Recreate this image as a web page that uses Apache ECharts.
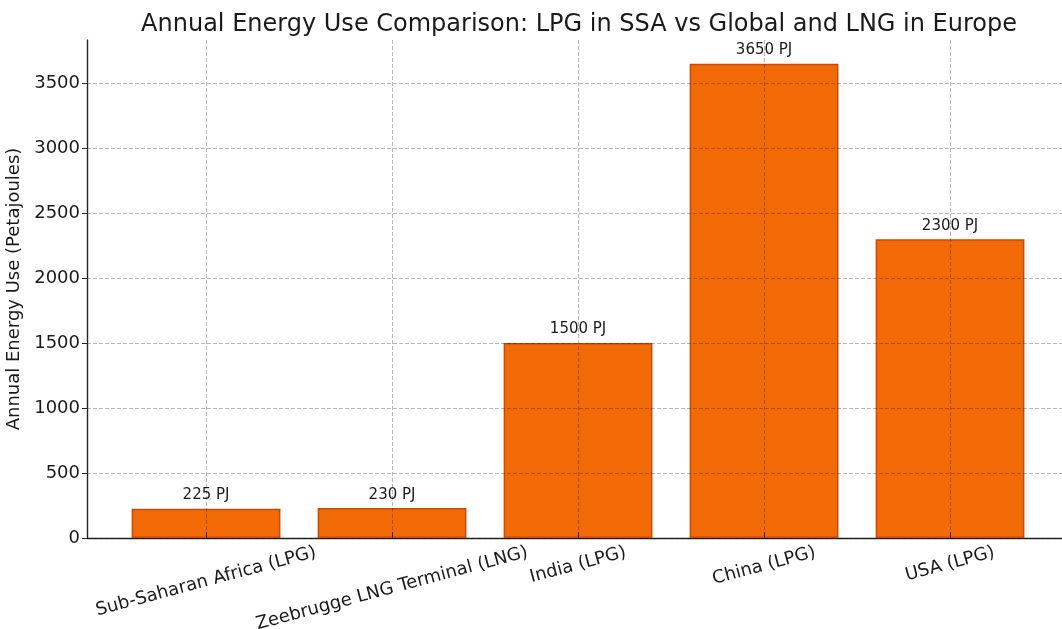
<!DOCTYPE html>
<html>
<head>
<meta charset="utf-8">
<style>
  html, body { margin: 0; padding: 0; background: #ffffff; }
  #chart { width: 1062px; height: 629px; }
</style>
<script src="https://cdn.jsdelivr.net/npm/echarts@6/dist/echarts.min.js"></script>
</head>
<body>
<div id="chart"></div>
<script>
// Chart data
const categories = [
  'Sub-Saharan Africa (LPG)',
  'Zeebrugge LNG Terminal (LNG)',
  'India (LPG)',
  'China (LPG)',
  'USA (LPG)'
];
const energyPJ = [225, 230, 1500, 3650, 2300];
const titleText = 'Annual Energy Use Comparison: LPG in SSA vs Global and LNG in Europe';
const yAxisTitle = 'Annual Energy Use (Petajoules)';
const unitSuffix = ' PJ';

// Plot geometry (pixels)
const plotLeft = 87, plotTop = 40, plotBottom = 538;
const xMin = -0.64, xMax = categories.length - 1 + 0.64;
const unitPx = 186;                       // one category step
const plotWidth = (xMax - xMin) * unitPx;
const yMax = Math.max(...energyPJ) * 1.05;

const font = 'DejaVu Sans';
const gridLine = { type: [4, 2], color: 'rgba(0,0,0,0.28)', width: 1 };

// Rotated category labels: every rotated box hangs from the same top line
// and stays centred on its tick. Each label gets its own line height and a
// trailing spacer so the text centre lands where it should.
const rot = 15 * Math.PI / 180;
const labelFont = 18;
const labelMargin = 4;
const boxTop = plotBottom + 4;
const glyphH = 21;
const measureCtx = document.createElement('canvas').getContext('2d');
measureCtx.font = labelFont + 'px "' + font + '"';
const labelRich = {};
categories.forEach((c, i) => {
  const L = measureCtx.measureText(c).width;
  const centreY = boxTop + (L * Math.sin(rot) + glyphH * Math.cos(rot)) / 2;
  const lh = (centreY - (plotBottom + labelMargin)) / 0.5175;
  labelRich['t' + i] = { fontFamily: font, fontSize: labelFont, color: '#1a1a1a', lineHeight: lh };
  labelRich['s' + i] = { fontFamily: font, fontSize: labelFont, width: Math.tan(rot) * lh, lineHeight: lh };
});

const chart = echarts.init(document.getElementById('chart'), null, { renderer: 'canvas' });
chart.setOption({
  backgroundColor: '#ffffff',
  animation: false,
  textStyle: { fontFamily: font },
  title: {
    text: titleText,
    left: plotLeft + plotWidth / 2 - 4,
    textAlign: 'center',
    top: 8,
    textStyle: { fontFamily: font, fontSize: 24, fontWeight: 'normal', color: '#1a1a1a' }
  },
  grid: [
    { left: plotLeft, top: plotTop, width: plotWidth, height: plotBottom - plotTop,
      containLabel: false, outerBoundsMode: 'none' },
    { left: plotLeft + (0 - xMin) * unitPx, top: plotTop,
      width: (categories.length - 1) * unitPx, height: plotBottom - plotTop,
      containLabel: false, outerBoundsMode: 'none' }
  ],
  xAxis: [
    {
      type: 'value', gridIndex: 0, min: xMin, max: xMax,
      axisLine: { show: true, onZero: false, lineStyle: { color: '#262626', width: 1.4 } },
      axisTick: { show: false }, axisLabel: { show: false }, splitLine: { show: false }
    },
    {
      type: 'category', gridIndex: 1, data: categories, boundaryGap: false, z: 5,
      axisLine: { show: false, onZero: false },
      axisTick: { show: true, inside: true, length: 6, lineStyle: { color: '#262626', width: 1 } },
      axisLabel: {
        rotate: 15, align: 'center', verticalAlign: 'top', margin: labelMargin,
        fontFamily: font, fontSize: labelFont, color: '#1a1a1a', interval: 0,
        hideOverlap: false,
        formatter: (value, index) => '{t' + index + '|' + value + '}{s' + index + '| }',
        rich: labelRich
      },
      splitLine: { show: true, lineStyle: gridLine }
    }
  ],
  yAxis: [
    {
      type: 'value', gridIndex: 0, min: 0, max: yMax, interval: 500, z: 5,
      name: yAxisTitle, nameLocation: 'middle', nameGap: 55, nameRotate: 90,
      nameTextStyle: { fontFamily: font, fontSize: 18, color: '#1a1a1a' },
      axisLine: { show: true, onZero: false, lineStyle: { color: '#262626', width: 1.4 } },
      axisTick: { show: true, inside: false, length: 5, lineStyle: { color: '#262626' } },
      axisLabel: { fontFamily: font, fontSize: 18, color: '#1a1a1a', margin: 7,
        showMaxLabel: false, formatter: v => String(v) },
      splitLine: { show: true, showMaxLine: false, lineStyle: gridLine }
    },
    {
      type: 'value', gridIndex: 1, min: 0, max: yMax, show: false
    }
  ],
  series: [
    {
      type: 'bar', xAxisIndex: 0, yAxisIndex: 0, z: 2,
      barWidth: 0.8 * unitPx,
      clip: false,
      data: energyPJ.map((v, i) => [i, v]),
      itemStyle: { color: '#f26a06', borderColor: '#c9480c', borderWidth: 1.5 },
      label: {
        show: true, position: 'top', distance: 6,
        fontFamily: font, fontSize: 15, color: '#1a1a1a',
        formatter: p => p.value[1] + unitSuffix
      }
    }
  ]
});
</script>
</body>
</html>
